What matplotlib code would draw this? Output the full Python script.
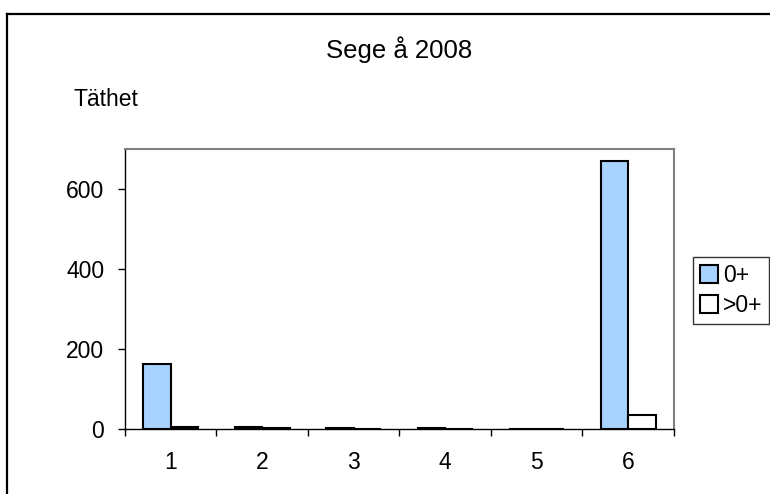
import matplotlib.pyplot as plt
import numpy as np
from matplotlib.patches import Patch
from matplotlib.lines import Line2D

plt.rcParams['font.family'] = ['Liberation Sans', 'DejaVu Sans']

sites = [1, 2, 3, 4, 5, 6]
young = [162, 5, 2, 2, 0, 670]     # 0+
older = [5, 3, 0, 0, 0, 35]        # >0+
yticks = [0, 200, 400, 600]

blue = '#A8D2FF'

fig = plt.figure(figsize=(7.7, 4.94), dpi=100)
ax = fig.add_axes([0.1623, 0.1316, 0.7130, 0.5668])

x = np.array(sites)
w = 0.30
ax.bar(x - w / 2, young, w, color=blue, edgecolor='black', linewidth=1.5, label='0+', zorder=2)
ax.bar(x + w / 2, older, w, color='white', edgecolor='black', linewidth=1.5, label='>0+', zorder=2)

ax.set_xlim(0.5, 6.5)
ax.set_ylim(0, 700)
ax.set_yticks(yticks)
ax.set_xticks(sites)
ax.set_xticks(np.arange(0.5, 7, 1), minor=True)
ax.tick_params(axis='x', which='major', length=0, pad=16, labelsize=16.5)
ax.tick_params(axis='x', which='minor', length=5, direction='out', width=1)
ax.tick_params(axis='y', length=5, direction='out', width=1, pad=10, labelsize=16.5)

for s in ['top', 'right']:
    ax.spines[s].set_color('#808080')
    ax.spines[s].set_linewidth(1.5)
for s in ['left', 'bottom']:
    ax.spines[s].set_color('black')
    ax.spines[s].set_linewidth(1)
for s in ax.spines.values():
    s.set_zorder(3)

fig.text(0.5188, 0.899, 'Sege å 2008', ha='center', va='center', fontsize=18.5)
fig.text(73 / 770, 0.7976, 'Täthet', ha='left', va='center', fontsize=16.5)

handles = [Patch(facecolor=blue, edgecolor='black', linewidth=1.5),
           Patch(facecolor='white', edgecolor='black', linewidth=1.5)]
leg = fig.legend(handles, ['0+', '>0+'], loc='upper left',
                 bbox_to_anchor=(693 / 770, 1 - 257 / 494), fontsize=16.5,
                 frameon=True, fancybox=False, borderaxespad=0,
                 handlelength=0.8, handleheight=0.8, handletextpad=0.2,
                 borderpad=0.3, labelspacing=0.3)
leg.get_frame().set_edgecolor('black')
leg.get_frame().set_linewidth(1)

# outer chart frame (runs off the right and bottom edges)
fig.add_artist(Line2D([7 / 770, 7 / 770], [1 - 14 / 494, -0.1], color='black', linewidth=1.6,
                      transform=fig.transFigure))
fig.add_artist(Line2D([7 / 770, 1.1], [1 - 14 / 494, 1 - 14 / 494], color='black', linewidth=1.6,
                      transform=fig.transFigure))

fig.savefig('out.png', dpi=100)
